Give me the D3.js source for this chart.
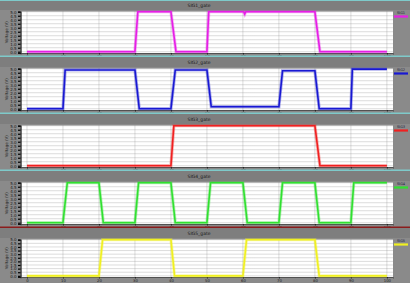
<!DOCTYPE html>
<html lang='en'>
<head>
  <meta charset='UTF-8'>
  <title>gate signals</title>
  <script src="https://d3js.org/d3.v7.min.js"></script>
  <style>
    body { margin: 0; background: #8a8a8a; }
    svg { display: block; }
    text { font-family: 'DejaVu Sans', sans-serif; }
  </style>
</head>
<body>
  <div id="chart"></div>
  <script>
    const timeTicks = [0, 10, 20, 30, 40, 50, 60, 70, 80, 90, 100];
    const voltTicks = [0, 0.5, 1, 1.5, 2, 2.5, 3, 3.5, 4, 4.5, 5];
    const panelTitles = ['SIG1_gate', 'SIG2_gate', 'SIG3_gate', 'SIG4_gate', 'SIG5_gate'];
    const legendNames = ['SIG1', 'SIG2', 'SIG3', 'SIG4', 'SIG5'];
    const colors = ['#e61ee6', '#1818d2', '#f02020', '#30e030', '#f0f020'];

    // waveforms: time points and voltages
    const sig1T = [0, 30, 30.8, 40, 41.4, 50, 50.5, 60.2, 60.5, 60.8, 80, 81.4, 100];
    const sig1V = [0, 0, 5, 5, 0, 0, 5, 5, 4.7, 5, 5, 0, 0];
    const sig2T = [0, 10, 10.6, 30, 31.2, 40, 41.2, 50, 51.2, 70, 71, 80, 81.2, 90, 90.4, 100];
    const sig2V = [0, 0, 4.85, 4.85, 0, 0, 4.85, 4.85, 0.25, 0.25, 4.75, 4.75, 0, 0, 4.95, 4.95];
    const sig3T = [0, 40, 40.8, 80, 81.4, 100];
    const sig3V = [0, 0, 5, 5, 0, 0];
    const sig4T = [0, 10, 11.2, 20, 21.2, 30, 31, 40, 41.2, 50, 51, 60, 61.2, 70, 71, 80, 81.2, 90, 90.8, 100];
    const sig4V = [0, 0, 5, 5, 0, 0, 5, 5, 0, 0, 5, 5, 0, 0, 5, 5, 0, 0, 5, 5];
    const sig5T = [0, 20, 21, 40, 41, 60, 61, 80, 81.2, 100];
    const sig5V = [0, 0, 5, 5, 0, 0, 5, 5, 0, 0];

    const signals = [[sig1T, sig1V], [sig2T, sig2V], [sig3T, sig3V], [sig4T, sig4V], [sig5T, sig5V]];
    const separators = ['#7ecaca', '#7ecaca', '#7ecaca', '#8b1c1c', '#7ecaca'];

    const W = 410, H = 283;
    const panelH = 57;

    const svg = d3.select('#chart')
      .append('svg')
      .attr('width', W)
      .attr('height', H);

    const xScale = d3.scaleLinear()
      .domain([-1.8, 101.7])
      .range([20.5, 393]);

    svg.append('rect')
      .attr('width', W).attr('height', H)
      .attr('fill', '#8a8a8a');

    signals.forEach((s, i) => {
      // last panel is cut short by the window
      const bottom = i === 4 ? 49 : 53;
      const yScale = d3.scaleLinear()
        .domain([-0.16, 5.03])
        .range([bottom, 11.5]);

      const g = svg.append('g')
        .attr('transform', `translate(0, ${i * panelH})`);

      // title strip
      g.append('rect')
        .attr('x', 0).attr('y', 0)
        .attr('width', W).attr('height', 10)
        .attr('fill', '#7e7e7e');

      g.append('text')
        .attr('x', 199).attr('y', 6.5)
        .attr('text-anchor', 'middle')
        .attr('font-size', 4.5)
        .attr('fill', '#1a1a1a')
        .text(panelTitles[i]);

      // plot area
      g.append('rect')
        .attr('x', xScale.range()[0])
        .attr('y', yScale.range()[1])
        .attr('width', xScale.range()[1] - xScale.range()[0])
        .attr('height', yScale.range()[0] - yScale.range()[1])
        .attr('fill', '#ffffff');

      // grid
      g.append('g')
        .selectAll('line')
        .data(voltTicks)
        .join('line')
        .attr('x1', xScale.range()[0])
        .attr('x2', xScale.range()[1])
        .attr('y1', (d) => yScale(d))
        .attr('y2', (d) => yScale(d))
        .attr('stroke', '#8c8c8c')
        .attr('stroke-width', 0.6)
        .attr('stroke-dasharray', '1,1');

      g.append('g')
        .selectAll('line')
        .data(timeTicks)
        .join('line')
        .attr('x1', (d) => xScale(d))
        .attr('x2', (d) => xScale(d))
        .attr('y1', yScale.range()[1])
        .attr('y2', yScale.range()[0])
        .attr('stroke', '#8c8c8c')
        .attr('stroke-width', 0.6)
        .attr('stroke-dasharray', '1,1');

      // axes
      const yAxis = d3.axisLeft(yScale)
        .tickValues(voltTicks)
        .tickSize(2.5)
        .tickPadding(1.5)
        .tickFormat(d3.format('.1f'));

      const ya = g.append('g')
        .attr('transform', `translate(${xScale.range()[0]}, 0)`)
        .call(yAxis);
      ya.select('.domain').attr('stroke', '#111').attr('stroke-width', 1.2);
      ya.selectAll('.tick line').attr('stroke', '#000').attr('stroke-width', 1.2);
      ya.selectAll('text').attr('font-size', 4).attr('fill', '#1a1a1a');

      const xAxis = d3.axisBottom(xScale)
        .tickValues(timeTicks)
        .tickSize(1.5)
        .tickPadding(0.5);

      const xa = g.append('g')
        .attr('transform', `translate(0, ${yScale.range()[0]})`)
        .call(xAxis);
      xa.select('.domain').attr('stroke', '#444').attr('stroke-width', 0.8);
      xa.selectAll('.tick line').attr('stroke', '#222');
      xa.selectAll('text').attr('font-size', 3.8).attr('fill', '#1a1a1a');

      g.append('text')
        .attr('transform', `translate(7.5, ${(yScale.range()[0] + yScale.range()[1]) / 2}) rotate(-90)`)
        .attr('text-anchor', 'middle')
        .attr('font-size', 4)
        .attr('fill', '#1a1a1a')
        .text('Voltage (V)');

      // waveform
      const pts = s[0].map((t, k) => [t, s[1][k]]);
      const line = d3.line()
        .x((d) => xScale(d[0]))
        .y((d) => yScale(d[1]));

      g.append('path')
        .datum(pts)
        .attr('fill', 'none')
        .attr('stroke', colors[i])
        .attr('stroke-opacity', 0.35)
        .attr('stroke-width', 3.2)
        .attr('d', line);

      g.append('path')
        .datum(pts)
        .attr('fill', 'none')
        .attr('stroke', colors[i])
        .attr('stroke-width', 1.6)
        .attr('d', line);

      // legend
      g.append('text')
        .attr('x', 401).attr('y', 14)
        .attr('text-anchor', 'middle')
        .attr('font-size', 3.5)
        .attr('fill', '#1a1a3a')
        .text(legendNames[i]);

      g.append('line')
        .attr('x1', 394).attr('x2', 408)
        .attr('y1', 16.5).attr('y2', 16.5)
        .attr('stroke', colors[i])
        .attr('stroke-width', 2.2);

      // separator at bottom of panel
      if (i < 4) {
        g.append('rect')
          .attr('x', 0).attr('y', panelH - 1.5)
          .attr('width', W).attr('height', 1.6)
          .attr('fill', separators[i]);
      }
    });

    svg.append('rect')
      .attr('x', 0).attr('y', 0)
      .attr('width', W).attr('height', 1)
      .attr('fill', '#7ecaca');
  </script>
</body>
</html>
